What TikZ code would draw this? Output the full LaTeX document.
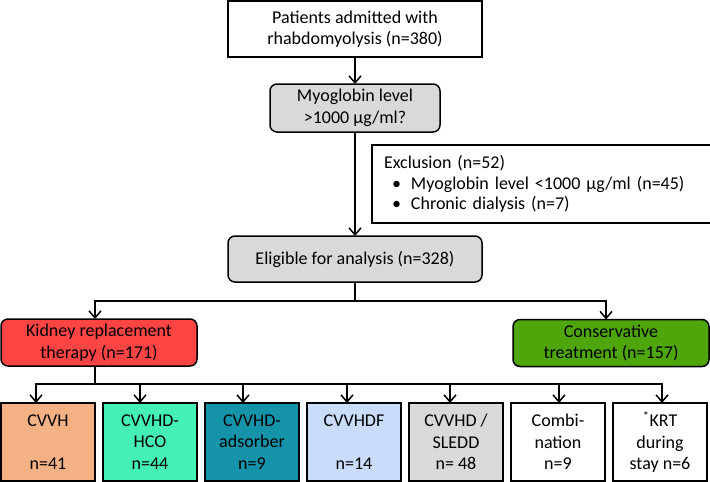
\documentclass[tikz,border=0pt]{standalone}
\usepackage{fontspec}
\setmainfont{Carlito}
\usetikzlibrary{arrows.meta, positioning}

\definecolor{boxgrey}{RGB}{217,217,217}
\definecolor{krtred}{RGB}{255,68,68}
\definecolor{consgreen}{RGB}{78,166,10}
\definecolor{cvvhorange}{RGB}{244,177,131}
\definecolor{hcogreen}{RGB}{69,240,180}
\definecolor{adsteal}{RGB}{21,147,168}
\definecolor{hdfblue}{RGB}{201,221,251}

\begin{document}
\begin{tikzpicture}[->,>={Straight Barb[length=7pt,width=12pt]}, x=1pt, y=-1pt, line width=1.5pt]
    \tikzstyle{box}=[rectangle,
                     draw=black,
                     line width=1.5pt,
                     inner sep=0pt,
                     outer sep=0pt,
                     align=center,
                     font=\fontsize{18}{21.5}\selectfont]
    \tikzstyle{roundbox}=[box, rounded corners=7pt]
    \tikzstyle{therapy}=[box, minimum width=94pt, minimum height=78pt]
    \useasboundingbox (0,0) rectangle (710,482);

    \node[box, minimum width=254pt, minimum height=56pt] (admitted) at (355,29)
        {Patients admitted with\\rhabdomyolysis (n=380)};
    \node[roundbox, fill=boxgrey, minimum width=170pt, minimum height=48pt] (myo) at (355,108)
        {Myoglobin level\\>1000 µg/ml?};
    \node[box, anchor=north west, minimum width=335pt, minimum height=78pt,
          align=left, text width=323pt, inner xsep=12pt,
          font=\fontsize{18}{20.5}\selectfont] (excl) at (372,145)
        {Exclusion (n=52)\\
         \hspace*{8pt}\textbullet\hspace{10pt}Myoglobin level <1000 µg/ml (n=45)\\
         \hspace*{8pt}\textbullet\hspace{10pt}Chronic dialysis (n=7)};
    \node[roundbox, fill=boxgrey, minimum width=254pt, minimum height=46pt] (elig) at (355,259)
        {Eligible for analysis (n=328)};
    \node[roundbox, fill=krtred, minimum width=196pt, minimum height=47pt] (krt) at (99,342.5)
        {Kidney replacement\\therapy (n=171)};
    \node[roundbox, fill=consgreen, minimum width=196pt, minimum height=47pt] (cons) at (611,343)
        {Conservative\\treatment (n=157)};

    % therapy modalities
    \node[therapy, fill=cvvhorange, anchor=north west] (cvvh) at (1,403) {CVVH\\~\\n=41};
    \node[therapy, fill=hcogreen]  (hco)   [right=8pt of cvvh]  {CVVHD-\\HCO\\n=44};
    \node[therapy, fill=adsteal]   (ads)   [right=8pt of hco]   {CVVHD-\\adsorber\\n=9};
    \node[therapy, fill=hdfblue]   (hdf)   [right=8pt of ads]   {CVVHDF\\~\\n=14};
    \node[therapy, fill=boxgrey]   (sledd) [right=8pt of hdf]   {CVVHD /\\SLEDD\\n= 48};
    \node[therapy]                 (comb)  [right=8pt of sledd] {Combi-\\nation\\n=9};
    \node[therapy]                 (late)  [right=8pt of comb]  {\textsuperscript{*}KRT\\during\\stay n=6};

    \coordinate (split1) at (355,301);
    \coordinate (split2) at (95,384);

    \draw (admitted) -- (myo);
    \draw (myo) -- (elig);
    \draw[-] (elig) -- (split1);
    \draw (split1) -| ([xshift=-4pt]krt.north);
    \draw (split1) -| ([xshift=-5pt]cons.north);
    \draw[-] (split2 |- krt.south) -- (split2);
    \foreach \n/\dx in {cvvh/-12, hco/-10, ads/-9, hdf/-7, sledd/-6, comb/1, late/2}
        \draw (split2) -| ([xshift=\dx pt]\n.north);
\end{tikzpicture}
\end{document}
